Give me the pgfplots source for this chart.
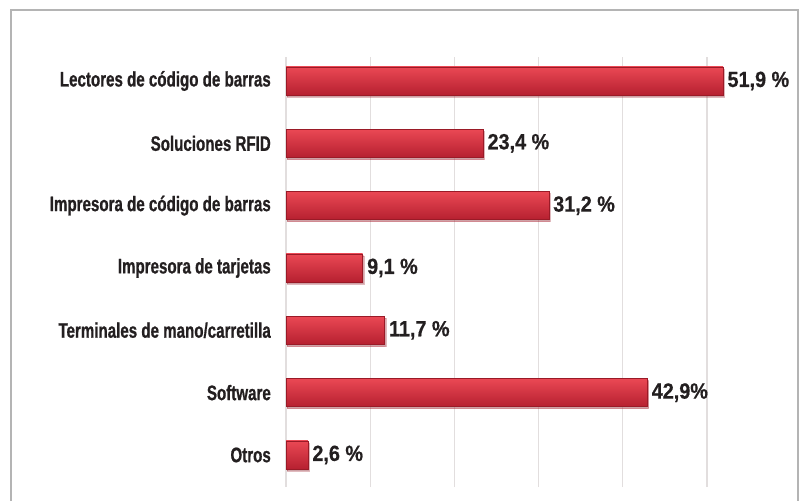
\documentclass[border=0pt]{standalone}
\usepackage{fontspec}
\setmainfont{Liberation Sans}
\newfontfamily\catfont{Liberation Sans}[UprightFont=* Bold, FakeStretch=0.72, FakeBold=0.8]
\newfontfamily\valfont{Liberation Sans}[UprightFont=* Bold, FakeStretch=0.9, FakeBold=0.6]
\usepackage{pgfplots}
\pgfplotsset{compat=1.18}
\usetikzlibrary{shadows}
\definecolor{barTop}{HTML}{EA4854}
\definecolor{barMid}{HTML}{DE2B3A}
\definecolor{barBot}{HTML}{B62030}
\definecolor{barEdge}{HTML}{9A1A27}
\definecolor{txt}{HTML}{231F20}
\definecolor{gridc}{HTML}{E2DEDE}
\definecolor{framec}{HTML}{B4B4B4}
\begin{document}
\begin{tikzpicture}
\path[use as bounding box] (0pt,0pt) rectangle (802pt,501pt);
\draw[line width=1.6pt, color=framec] (11pt,0pt) -- (11pt,491pt) -- (798pt,491pt) -- (798pt,0pt);
\begin{axis}[
  at={(286pt,14pt)}, anchor=south west,
  scale only axis, width=488.4pt, height=430pt,
  xbar,
  xmin=0, xmax=58, ymin=-0.514, ymax=6.385,
  axis line style={draw=none},
  major tick length=0pt,
  tick style={draw=none},
  xtick={0,10,20,30,40,50},
  xticklabels={},
  xmajorgrids,
  major grid style={color=gridc, line width=1.3pt},
  ytick={0,1,2,3,4,5,6},
  yticklabels={Otros, Software, Terminales de mano/carretilla, Impresora de tarjetas, Impresora de código de barras, Soluciones RFID, Lectores de código de barras},
  yticklabel style={font=\catfont\fontsize{21}{22}\selectfont, color=txt, inner sep=0pt, xshift=-15pt},
  point meta=explicit symbolic,
  nodes near coords,
  nodes near coords align={horizontal},
  nodes near coords style={font=\valfont\fontsize{22}{22}\selectfont, color=txt, anchor=west, xshift=1pt},
  clip=false,
  mybar/.style={xbar, bar width=28pt, bar shift=0pt, draw=barEdge, line width=0.4pt,
    top color=barTop, middle color=barMid, bottom color=barBot,
    drop shadow={shadow xshift=1.2pt, shadow yshift=-1.8pt, opacity=0.3}},
]
\addplot[mybar] coordinates {(51.9,6) [51,9 \%]};
\addplot[mybar] coordinates {(23.4,5) [23,4 \%]};
\addplot[mybar] coordinates {(31.2,4) [31,2 \%]};
\addplot[mybar] coordinates {(9.1,3)  [9,1 \%]};
\addplot[mybar] coordinates {(11.7,2) [11,7 \%]};
\addplot[mybar] coordinates {(42.9,1) [42,9\%]};
\addplot[mybar] coordinates {(2.6,0)  [2,6 \%]};
\end{axis}
\end{tikzpicture}
\end{document}
